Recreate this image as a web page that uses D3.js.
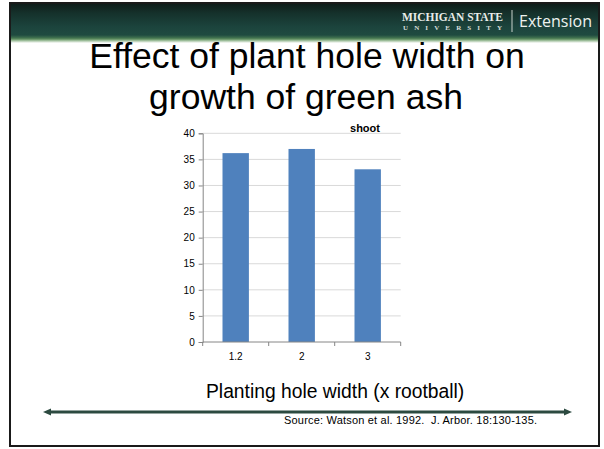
<!DOCTYPE html>
<html>
<head>
<meta charset="utf-8">
<script src="https://cdn.jsdelivr.net/npm/d3@7"></script>
<style>
html,body{margin:0;padding:0;background:#fff;}
svg{display:block;}
text{font-family:"Liberation Sans",Arial,sans-serif;}
</style>
</head>
<body>
<svg id="c" width="604" height="449"></svg>
<script>
// ---- data ----
const categories = ["1.2", "2", "3"];
const shootValues = [36.2, 37.0, 33.1];
const yTicks = [0, 5, 10, 15, 20, 25, 30, 35, 40];
const seriesName = "shoot";
const titleLines = ["Effect of plant hole width on", "growth of green ash"];
const xTitle = "Planting hole width (x rootball)";
const sourceText = "Source: Watson et al. 1992.  J. Arbor. 18:130-135.";

const svg = d3.select("#c");

// ---- slide background / header ----
const defs = svg.append("defs");
const g1 = defs.append("linearGradient").attr("id", "hdr").attr("x1", 0).attr("y1", 0).attr("x2", 0).attr("y2", 1);
[[0, "#0e1c19"], [0.25, "#15312b"], [0.6, "#1c443d"], [0.8, "#1f4a40"], [0.86, "#3a6a4c"], [0.9, "#5a8a5c"], [0.94, "#9fbf9c"], [1, "#ffffff"]]
  .forEach(([o, c]) => g1.append("stop").attr("offset", o).attr("stop-color", c));

svg.append("rect").attr("x", 10).attr("y", 3).attr("width", 589).attr("height", 40).attr("fill", "url(#hdr)");
svg.append("rect").attr("x", 10).attr("y", 3).attr("width", 589).attr("height", 443)
  .attr("fill", "none").attr("stroke", "#1a1a1a").attr("stroke-width", 2);

// logo
svg.append("text").attr("x", 402).attr("y", 21).attr("textLength", 101).attr("lengthAdjust", "spacingAndGlyphs")
  .style("font-family", "'Liberation Serif','DejaVu Serif',serif").style("font-size", "12px").style("font-weight", "bold")
  .attr("fill", "#e8ece9").text("MICHIGAN STATE");
svg.append("text").attr("x", 403).attr("y", 29.5).attr("textLength", 99).attr("lengthAdjust", "spacing")
  .style("font-family", "'Liberation Serif','DejaVu Serif',serif").style("font-size", "7px").style("font-weight", "bold")
  .attr("fill", "#d8dfda").text("UNIVERSITY");
svg.append("line").attr("x1", 512).attr("x2", 512).attr("y1", 10).attr("y2", 32).attr("stroke", "#c8d2cc").attr("stroke-width", 1);
svg.append("text").attr("x", 519).attr("y", 27).attr("textLength", 73).attr("lengthAdjust", "spacingAndGlyphs")
  .style("font-family", "'Open Sans','Noto Sans',sans-serif").style("font-size", "16px")
  .attr("fill", "#eef2ef").text("Extension");

// ---- title ----
svg.append("text").attr("x", 307).attr("y", 68).attr("text-anchor", "middle")
  .style("font-size", "35.5px").attr("fill", "#000").text(titleLines[0]);
svg.append("text").attr("x", 306).attr("y", 109).attr("text-anchor", "middle")
  .style("font-size", "35.5px").attr("fill", "#000").text(titleLines[1]);

// ---- chart ----
const x0 = 202.7, x1 = 400.7, yB = 342, yT = 133.3;
const x = d3.scaleBand().domain(categories).range([x0, x1]).paddingInner(0.6).paddingOuter(0.3);
const y = d3.scaleLinear().domain([0, 40]).range([yB, yT]);

// gridlines
svg.append("g").selectAll("line").data(yTicks.filter(d => d > 0)).join("line")
  .attr("x1", x0).attr("x2", x1).attr("y1", d => y(d)).attr("y2", d => y(d))
  .attr("stroke", "#d9d9d9").attr("stroke-width", 1);

// bars
svg.append("g").selectAll("rect").data(shootValues).join("rect")
  .attr("x", (d, i) => x(categories[i])).attr("width", x.bandwidth())
  .attr("y", d => y(d)).attr("height", d => y(0) - y(d))
  .attr("fill", "#4f81bd");

// y axis
const yAxis = d3.axisLeft(y).tickValues(yTicks).tickSize(4).tickPadding(4);
const gy = svg.append("g").attr("transform", `translate(${x0},0)`).call(yAxis);
gy.select(".domain").attr("stroke", "#868686");
gy.selectAll(".tick line").attr("stroke", "#868686");
gy.selectAll(".tick text").style("font-family", "'Liberation Sans',Arial,sans-serif").style("font-size", "10px").attr("fill", "#000");

// x axis (ticks at category boundaries)
const gx = svg.append("g").attr("transform", `translate(0,${yB})`);
gx.append("line").attr("x1", x0).attr("x2", x1).attr("y1", 0).attr("y2", 0).attr("stroke", "#868686");
const boundaries = categories.map(c => x(c) - x.step() * x.paddingOuter()).concat([x1]);
gx.selectAll("line.tk").data(boundaries).join("line").attr("class", "tk")
  .attr("x1", d => d).attr("x2", d => d).attr("y1", 0).attr("y2", 4).attr("stroke", "#868686");
gx.selectAll("text").data(categories).join("text")
  .attr("x", d => x(d) + x.bandwidth() / 2).attr("y", 17.5).attr("text-anchor", "middle")
  .style("font-size", "10px").attr("fill", "#000").text(d => d);

// series label
svg.append("text").attr("x", 365).attr("y", 132).attr("text-anchor", "middle")
  .style("font-size", "11px").style("font-weight", "bold").attr("fill", "#000").text(seriesName);

// x title
svg.append("text").attr("x", 206).attr("y", 398).style("font-size", "19.3px").attr("fill", "#000").text(xTitle);

// divider line with arrows
svg.append("line").attr("x1", 48).attr("x2", 567).attr("y1", 412).attr("y2", 412)
  .attr("stroke", "#2c4a40").attr("stroke-width", 3);
svg.append("path").attr("d", "M43,412 L51,408.5 L51,415.5 Z").attr("fill", "#2c4a40");
svg.append("path").attr("d", "M572,412 L564,408.5 L564,415.5 Z").attr("fill", "#2c4a40");

// source
svg.append("text").attr("x", 284).attr("y", 424).style("font-size", "11px").style("white-space", "pre")
  .attr("textLength", 253).attr("lengthAdjust", "spacing")
  .attr("fill", "#000").text(sourceText);
</script>
</body>
</html>
